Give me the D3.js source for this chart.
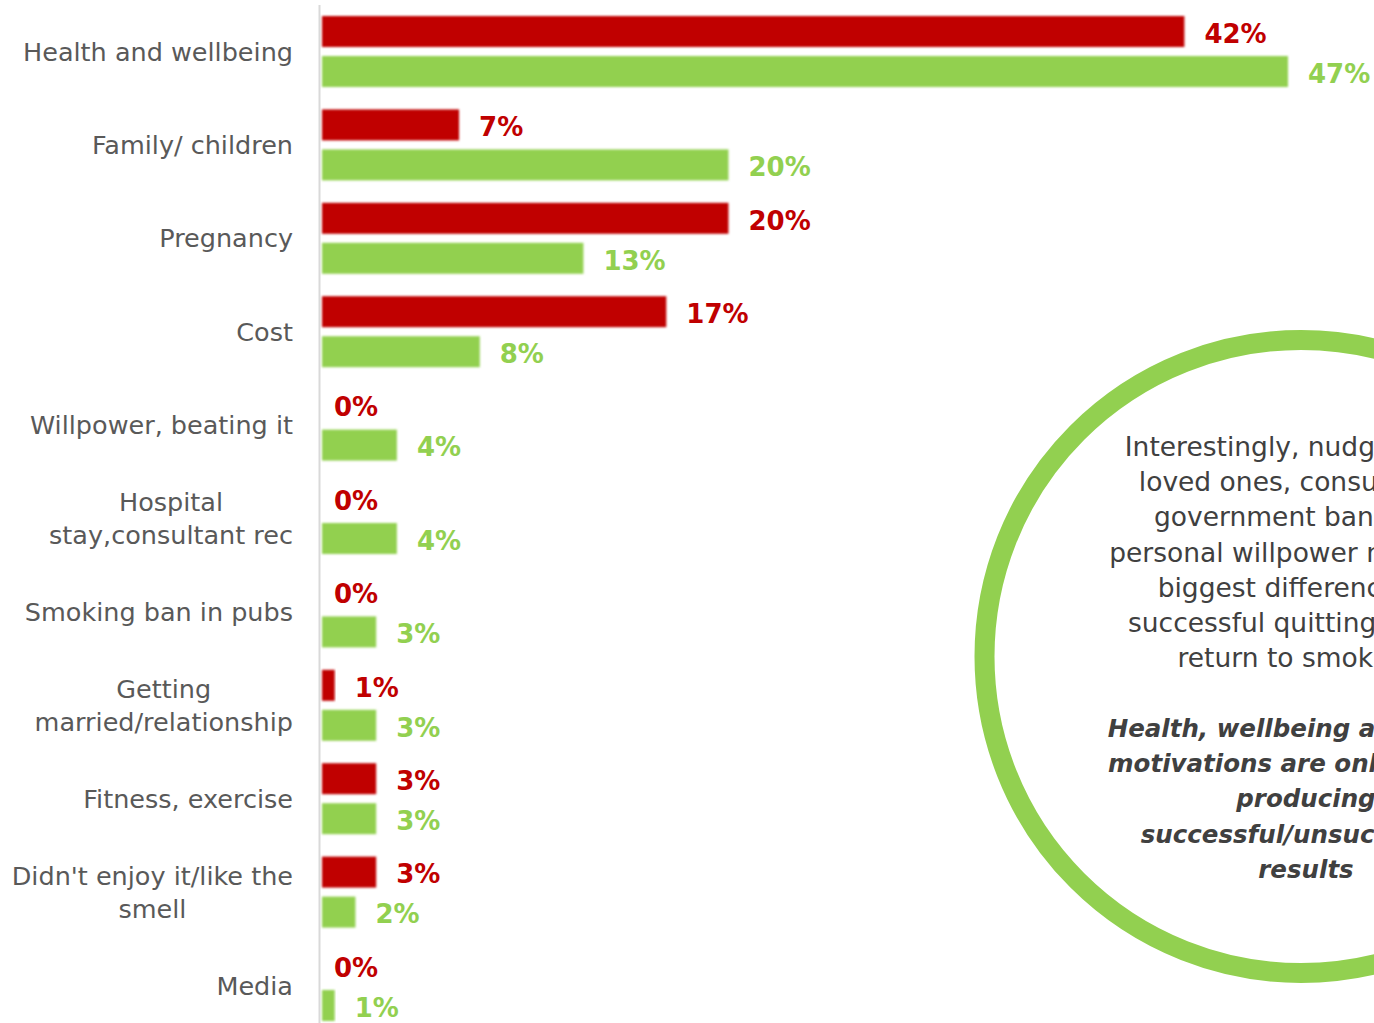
<!DOCTYPE html>
<html>
<head>
<meta charset="utf-8">
<script src="https://cdn.jsdelivr.net/npm/d3@7"></script>
<style>
  html, body { margin: 0; padding: 0; background: #ffffff; }
  svg { display: block; }
</style>
</head>
<body>
<div id="chart"></div>
<script>
// ---- data ----
const categories = [
  ["Health and wellbeing"],
  ["Family/ children"],
  ["Pregnancy"],
  ["Cost"],
  ["Willpower, beating it"],
  ["Hospital", "stay,consultant rec"],
  ["Smoking ban in pubs"],
  ["Getting", "married/relationship"],
  ["Fitness, exercise"],
  ["Didn't enjoy it/like the", "smell"],
  ["Media"]
];
const seriesNames = ["red", "green"];
const redValues   = [42, 7, 20, 17, 0, 0, 0, 1, 3, 3, 0];
const greenValues = [47, 20, 13, 8, 4, 4, 3, 3, 3, 2, 1];
const seriesColors = { red: "#C00000", green: "#92D050" };

const noteLines = [
  "Interestingly, nudges from",
  "loved ones, consultants,",
  "government bans and",
  "personal willpower make the",
  "biggest difference for",
  "successful quitting versus",
  "return to smoking."
];
const noteBoldLines = [
  "Health, wellbeing and family",
  "motivations are only slightly",
  "producing",
  "successful/unsuccessful",
  "results"
];

// ---- layout ----
const W = 1374, H = 1023;
const svg = d3.select("#chart").append("svg").attr("width", W).attr("height", H);

const defs = svg.append("defs");
defs.append("filter").attr("id", "soft")
  .append("feGaussianBlur").attr("stdDeviation", 0.8);

const catKeys = categories.map((c, i) => i);
const y0 = d3.scaleBand().domain(catKeys).range([4.8, 4.8 + 11 * 93.4])
  .paddingInner(0.24).paddingOuter(0.12);
const y1 = d3.scaleBand().domain(seriesNames).range([0, y0.bandwidth()]).paddingInner(0.225);
const x = d3.scaleLinear().domain([0, 47]).range([314, 1288]);
const barStart = 322;

// axis line
svg.append("line")
  .attr("x1", 319.5).attr("x2", 319.5).attr("y1", 5).attr("y2", H)
  .attr("stroke", "#D9D9D9").attr("stroke-width", 2);

// category labels: block right-aligned, lines centred within block
const labG = svg.append("g");
const labelRight = 293;
categories.forEach((lines, i) => {
  const cy = y0(i) + y0.bandwidth() / 2;
  const lh = 33;
  const t = labG.append("text")
    .attr("font-family", "'DejaVu Sans', sans-serif")
    .attr("font-size", 25.5)
    .attr("fill", "#595959");
  const spans = lines.map((ln, j) =>
    t.append("tspan")
      .attr("y", cy + (j - (lines.length - 1) / 2) * lh)
      .attr("dy", "0.36em")
      .text(ln));
  const maxW = d3.max(spans, s => s.node().getComputedTextLength());
  spans.forEach(s => s.attr("x", labelRight - maxW / 2).attr("text-anchor", "middle"));
});

// bars
const rows = categories.map((c, i) => ({ i, red: redValues[i], green: greenValues[i] }));
const groups = svg.append("g").selectAll("g").data(rows).join("g")
  .attr("transform", d => `translate(0,${y0(d.i)})`);

groups.selectAll("rect")
  .data(d => seriesNames.map(s => ({ s, v: d[s] })))
  .join("rect")
  .attr("x", barStart)
  .attr("y", d => y1(d.s))
  .attr("width", d => Math.max(0, x(d.v) - barStart))
  .attr("height", y1.bandwidth())
  .attr("fill", d => seriesColors[d.s])
  .attr("filter", "url(#soft)");

groups.selectAll("text")
  .data(d => seriesNames.map(s => ({ s, v: d[s] })))
  .join("text")
  .attr("x", d => x(d.v) + 20)
  .attr("y", d => y1(d.s) + y1.bandwidth() / 2 + 2)
  .attr("dy", "0.36em")
  .attr("font-family", "'DejaVu Sans', sans-serif")
  .attr("font-weight", "bold")
  .attr("font-size", 26)
  .attr("fill", d => seriesColors[d.s])
  .text(d => d.v + "%");

// circle note
const cx = 1301, cyC = 656.5;
svg.append("circle")
  .attr("cx", cx).attr("cy", cyC).attr("r", 316.5)
  .attr("fill", "none")
  .attr("stroke", "#92D050")
  .attr("stroke-width", 20);

const note = svg.append("text")
  .attr("text-anchor", "middle")
  .attr("font-family", "'DejaVu Sans', sans-serif")
  .attr("font-size", 26.5)
  .attr("fill", "#404040");
noteLines.forEach((ln, j) => {
  note.append("tspan").attr("x", 1300).attr("y", 456 + j * 35.2).text(ln);
});

const noteB = svg.append("text")
  .attr("text-anchor", "middle")
  .attr("font-family", "'DejaVu Sans', sans-serif")
  .attr("font-weight", "bold")
  .attr("font-style", "italic")
  .attr("font-size", 24.5)
  .attr("fill", "#404040");
noteBoldLines.forEach((ln, j) => {
  noteB.append("tspan").attr("x", 1306).attr("y", 737 + j * 35.2).text(ln);
});
</script>
</body>
</html>
